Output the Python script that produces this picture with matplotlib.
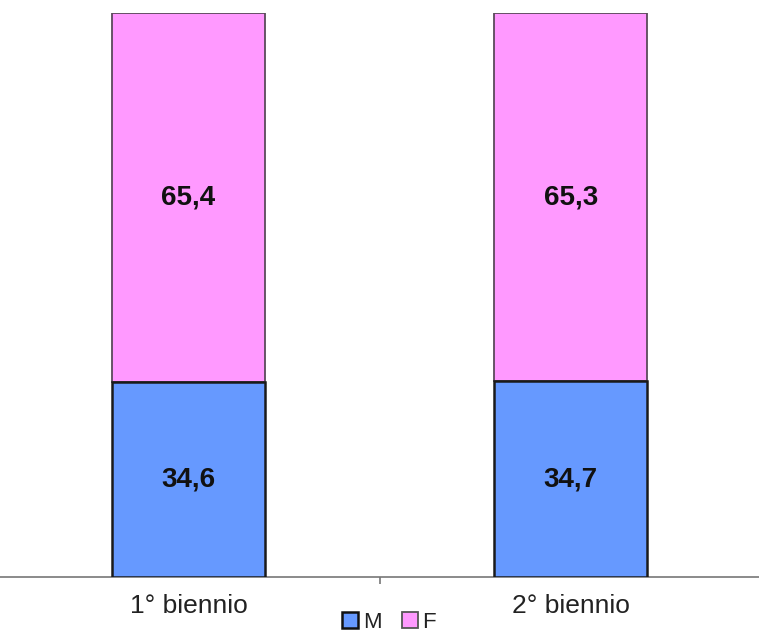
import matplotlib
matplotlib.use("Agg")
import matplotlib.pyplot as plt
from matplotlib.patches import Patch

categories = ["1° biennio", "2° biennio"]
male = [34.6, 34.7]
female = [65.4, 65.3]
male_labels = ["34,6", "34,7"]
female_labels = ["65,4", "65,3"]

plt.rcParams["font.family"] = ["Liberation Sans", "DejaVu Sans"]

fig = plt.figure(figsize=(7.59, 6.35), dpi=100)
ax = fig.add_axes([0.0, 1 - 577 / 635, 1.0, (577 - 13) / 635])

x = list(range(len(categories)))
width = 0.4
blue = "#6699FF"
pink = "#FF99FF"

ax.bar(x, male, width, color=blue, edgecolor="#1a1a1a", linewidth=1.8, zorder=3)
ax.bar(x, female, width, bottom=male, color=pink, edgecolor="#5a4a5a",
       linewidth=1.3, zorder=2)

for xi, m, f, ml, fl in zip(x, male, female, male_labels, female_labels):
    ax.text(xi, m / 2, ml, ha="center", va="center", fontsize=20,
            fontweight="bold", color="#111111", zorder=4)
    ax.text(xi, m + f / 2, fl, ha="center", va="center", fontsize=20,
            fontweight="bold", color="#111111", zorder=4)

ax.set_xlim(-0.493, 1.492)
ax.set_ylim(0, 100)

for side in ("left", "right", "top"):
    ax.spines[side].set_visible(False)
ax.spines["bottom"].set_color("#777777")
ax.spines["bottom"].set_linewidth(1.2)

ax.set_yticks([])
ax.set_xticks([0.5])
ax.set_xticklabels([""])
ax.tick_params(axis="x", direction="out", length=5, width=1.2, color="#777777")

for xi, name in zip(x, categories):
    ax.text(xi, -3.0, name, ha="center", va="top", fontsize=19,
            color="#222222", transform=ax.transData, clip_on=False)

handles = [Patch(facecolor=blue, edgecolor="#111111", linewidth=1.8, label="M"),
           Patch(facecolor=pink, edgecolor="#555555", linewidth=1.3, label="F")]
fig.legend(handles=handles, loc="center", bbox_to_anchor=(389 / 759, 1 - 622 / 635),
           ncol=2, frameon=False, fontsize=16, handlelength=0.75, handleheight=0.75,
           handletextpad=0.2, columnspacing=0.9, borderpad=0, labelcolor="#222222")

fig.savefig("out.png", dpi=100)
